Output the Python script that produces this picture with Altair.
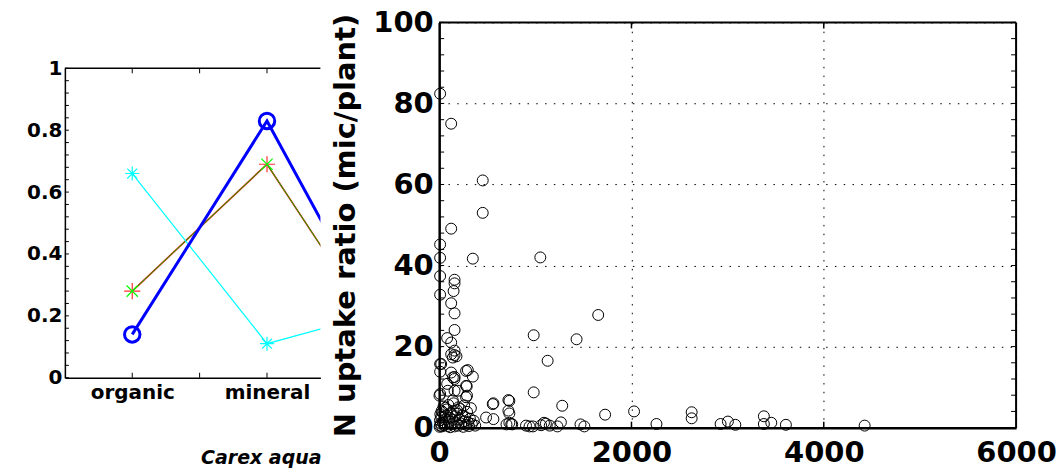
import altair as alt
import pandas as pd

# ---------------- Left panel data ----------------
categories = ["organic", "mineral", "other"]
cat_pos = [1, 2, 3]
blue_vals = [0.14, 0.83, 0.03]
cyan_vals = [0.66, 0.11, 0.23]
red_vals = [0.28, 0.69, 0.03]
green_vals = [0.28, 0.69, 0.03]
left_yticks_major = [0, 0.2, 0.4, 0.6, 0.8, 1.0]
left_yticks_minor = [round(i * 0.04, 2) for i in range(26)]
left_xticks = [1, 1.5, 2]

# ---------------- Right panel data ----------------
x_vals = [10, 125, 453, 453, 125, 10, 10, 350, 1052, 10, 160, 160, 150, 10, 125, 160, 1654, 160,
          83, 983, 1429, 125, 160, 160, 180, 1128, 10, 10, 298, 350, 160, 83, 287, 10, 160, 290,
          983, 564, 730, 730, 1280, 1726, 2027, 2260, 2626, 2626, 2927, 3003, 3080, 3377, 3377,
          3454, 3606, 4425, 488, 564, 700, 730, 760, 940, 975, 1060, 1090, 1110, 1150, 1230, 1266,
          1470, 1510,
          125, 142, 21, 125, 142, 159, 280, 280, 90, 194, 3, 142, 280, 557, 720, 720, 750, 903,
          5, 10, 15, 8, 20, 12, 25, 30, 40, 55, 60, 70, 80, 90, 100, 110, 120, 130, 140, 150, 160,
          170, 180, 190, 200, 210, 220, 230, 240, 250, 260, 270, 280, 290, 300, 310, 320, 340, 360,
          375, 45, 95, 150, 200, 260, 330, 35, 65, 185, 115]
y_vals = [82.4, 75.0, 61.0, 53.0, 49.1, 45.2, 41.9, 41.7, 42.0, 37.4, 36.5, 35.6, 33.7, 32.8, 30.7,
          28.2, 27.8, 24.1, 22.1, 22.8, 21.8, 21.0, 19.0, 17.9, 17.6, 16.5, 15.7, 13.8, 14.2, 12.6,
          12.5, 10.8, 10.2, 8.3, 9.1, 7.9, 8.7, 6.0, 6.6, 3.5, 5.4, 3.2, 4.0, 0.9, 3.8, 2.3, 0.9,
          1.5, 0.7, 2.8, 0.9, 1.2, 0.7, 0.5, 2.5, 2.1, 0.8, 1.2, 0.8, 0.3, 0.3, 0.6, 1.2, 1.0, 0.5,
          0.3, 1.3, 0.8, 0.3,
          18.1, 17.3, 15.7, 13.6, 12.4, 12.0, 14.0, 10.3, 9.1, 9.1, 7.9, 6.7, 7.5, 5.8, 6.8, 4.2,
          0.9, 0.5,
          0.2, 0.5, 1.0, 1.8, 2.6, 3.3, 4.1, 0.3, 1.2, 0.6, 2.0, 3.0, 4.5, 0.4, 1.5, 2.4, 3.6, 0.8,
          1.9, 4.0, 0.3, 2.8, 1.2, 3.4, 0.5, 2.0, 4.6, 1.0, 3.0, 0.2, 1.6, 2.6, 0.7, 3.9, 1.3, 0.4,
          2.2, 0.9, 1.7, 0.5, 5.2, 5.6, 6.0, 5.0, 5.5, 4.8, 3.8, 4.9, 4.3, 0.1]
right_yticks_major = [0, 20, 40, 60, 80, 100]
right_yticks_minor = list(range(0, 101, 4))
right_xticks_major = [0, 2000, 4000, 6000]
right_xticks_inner = [2000, 4000]

FONT = "DejaVu Sans"

# ---------------- Left chart ----------------
LW, LH = 256, 310
rows = []
for name, vals in [("blue", blue_vals), ("cyan", cyan_vals), ("red", red_vals), ("green", green_vals)]:
    for p, c, v in zip(cat_pos, categories, vals):
        rows.append({"series": name, "pos": p, "cat": c, "val": v})
dl = pd.DataFrame(rows)

label_expr = " : ".join(
    [f"datum.value == {p} ? '{c}'" for p, c in zip(cat_pos[:2], categories[:2])]) + " : ''"

lx_scale = alt.Scale(domain=[0.5, 0.5 + LW / 135.0], nice=False, zero=False)
ly_scale = alt.Scale(domain=[0, 1], nice=False)

lx_axis = alt.Axis(values=cat_pos[:2], labelExpr=label_expr, tickSize=0, grid=False,
                   domainColor="black", domainWidth=1.5, labelFont=FONT, labelFontSize=20,
                   labelFontWeight="bold", labelColor="black", labelPadding=5,
                   labelFlush=False, labelOverlap=False,
                   title="Carex aqua", titleFont=FONT, titleFontSize=19, titleFontWeight="bold",
                   titleFontStyle="italic", titleColor="black", titleAlign="left",
                   titleAnchor="start", titleX=136, titleY=80, titleBaseline="middle")
ly_axis = alt.Axis(values=left_yticks_major, format="~g", tickSize=0, grid=False,
                   domainColor="black", domainWidth=1.5, labelFont=FONT, labelFontSize=20,
                   labelFontWeight="bold", labelColor="black", labelPadding=3,
                   labelFlush=False, labelOverlap=False, title=None)


def LX(f):
    return alt.X(f, type="quantitative", scale=lx_scale, axis=lx_axis)


def LY(f):
    return alt.Y(f, type="quantitative", scale=ly_scale, axis=ly_axis)


lbase = alt.Chart(dl)
line_blue = lbase.transform_filter("datum.series == 'blue'").mark_line(
    color="#0000ff", strokeWidth=3, clip=True).encode(x=LX("pos"), y=LY("val"))
pt_blue = lbase.transform_filter("datum.series == 'blue'").mark_point(
    shape="circle", filled=False, color="#0000ff", strokeWidth=3, size=240, opacity=1,
    clip=True).encode(x=LX("pos"), y=LY("val"))
line_cyan = lbase.transform_filter("datum.series == 'cyan'").mark_line(
    color="#00ffff", strokeWidth=1.2, clip=True).encode(x=LX("pos"), y=LY("val"))
pt_cyan = lbase.transform_filter("datum.series == 'cyan'").mark_point(
    shape="M0,-1L0,1M-1,0L1,0M-0.7,-0.7L0.7,0.7M-0.7,0.7L0.7,-0.7", filled=False,
    color="#00ffff", strokeWidth=1.2, size=200, opacity=1, clip=True).encode(x=LX("pos"), y=LY("val"))
line_red = lbase.transform_filter("datum.series == 'red'").mark_line(
    color="#ff0000", strokeWidth=1.6, clip=True).encode(x=LX("pos"), y=LY("val"))
pt_red = lbase.transform_filter("datum.series == 'red'").mark_point(
    shape="M0,-1L0,1M-1,0L1,0", filled=False, color="#ff3030", strokeWidth=1.2, size=260,
    opacity=1, clip=True).encode(x=LX("pos"), y=LY("val"))
line_green = lbase.transform_filter("datum.series == 'green'").mark_line(
    color="#00c000", strokeWidth=1, clip=True).encode(x=LX("pos"), y=LY("val"))
pt_green = lbase.transform_filter("datum.series == 'green'").mark_point(
    shape="M-0.7,-0.7L0.7,0.7M-0.7,0.7L0.7,-0.7", filled=False, color="#00ff00",
    strokeWidth=1.2, size=260, opacity=1, clip=True).encode(x=LX("pos"), y=LY("val"))

l_ytick_df = pd.DataFrame({"t": left_yticks_minor})
l_yticks = alt.Chart(l_ytick_df).mark_rule(color="black", strokeWidth=1).encode(
    y=LY("t"), x=alt.value(0), x2=alt.value(4))
l_xtick_df = pd.DataFrame({"t": left_xticks})
l_xticks_b = alt.Chart(l_xtick_df).mark_rule(color="black", strokeWidth=1).encode(
    x=LX("t"), y=alt.value(LH), y2=alt.value(LH - 5))
l_xticks_t = alt.Chart(l_xtick_df).mark_rule(color="black", strokeWidth=1).encode(
    x=LX("t"), y=alt.value(0), y2=alt.value(5))
l_top = alt.Chart(pd.DataFrame({"v": [1.0]})).mark_rule(color="black", strokeWidth=1.5).encode(
    y=LY("v"))

left = alt.layer(l_yticks, l_xticks_b, l_xticks_t, l_top,
                 line_red, line_green, line_cyan, line_blue,
                 pt_cyan, pt_red, pt_green, pt_blue).properties(width=LW, height=LH)

# invisible spacer that pushes the left panel down
spacer = alt.Chart(pd.DataFrame({"s": [0]})).mark_rule(opacity=0).encode(
    x=alt.value(0), y=alt.value(0), y2=alt.value(1)).properties(width=LW, height=36)

left_col = alt.vconcat(spacer, left, spacing=0)

# ---------------- Right chart ----------------
RW, RH = 578, 406
dr = pd.DataFrame({"x": x_vals, "y": y_vals})
rx_scale = alt.Scale(domain=[0, 6000], nice=False)
ry_scale = alt.Scale(domain=[0, 100], nice=False)
rx_axis = alt.Axis(values=right_xticks_major, format="d", tickSize=0, grid=True,
                   gridDash=[1.5, 7.3], gridColor="black", gridWidth=1, gridOpacity=1,
                   domainColor="black", domainWidth=2.5, labelFont=FONT, labelFontSize=29,
                   labelFontWeight="bold", labelColor="black", labelPadding=11,
                   labelFlush=False, labelOverlap=False, title=None)
ry_axis = alt.Axis(values=right_yticks_major, format="d", tickSize=0, grid=True,
                   gridDash=[1.5, 7.3], gridColor="black", gridWidth=1, gridOpacity=1,
                   domainColor="black", domainWidth=2.5, labelFont=FONT, labelFontSize=29,
                   labelFontWeight="bold", labelColor="black", labelPadding=6,
                   labelFlush=False, labelOverlap=False,
                   title="N uptake ratio (mic/plant)", titleFont=FONT, titleFontSize=29,
                   titleFontWeight="bold", titleColor="black", titlePadding=12)


def RX(f):
    return alt.X(f, type="quantitative", scale=rx_scale, axis=rx_axis)


def RY(f):
    return alt.Y(f, type="quantitative", scale=ry_scale, axis=ry_axis)


scatter = alt.Chart(dr).mark_point(shape="circle", filled=False, color="black",
                                   strokeWidth=1, size=120, opacity=1).encode(
    x=RX("x"), y=RY("y"))

r_ytick_df = pd.DataFrame({"t": right_yticks_minor})
r_yticks_l = alt.Chart(r_ytick_df).mark_rule(color="black", strokeWidth=1).encode(
    y=RY("t"), x=alt.value(0), x2=alt.value(5))
r_yticks_r = alt.Chart(r_ytick_df).mark_rule(color="black", strokeWidth=1).encode(
    y=RY("t"), x=alt.value(RW), x2=alt.value(RW - 5))
r_xtick_df = pd.DataFrame({"t": right_xticks_inner})
r_xticks_b = alt.Chart(r_xtick_df).mark_rule(color="black", strokeWidth=1.5).encode(
    x=RX("t"), y=alt.value(RH), y2=alt.value(RH - 6))
r_xticks_t = alt.Chart(r_xtick_df).mark_rule(color="black", strokeWidth=1.5).encode(
    x=RX("t"), y=alt.value(0), y2=alt.value(6))
r_top = alt.Chart(pd.DataFrame({"v": [100]})).mark_rule(color="black", strokeWidth=2).encode(
    y=RY("v"))
r_right = alt.Chart(pd.DataFrame({"v": [6000]})).mark_rule(color="black", strokeWidth=2).encode(
    x=RX("v"))

right = alt.layer(r_yticks_l, r_yticks_r, r_xticks_b, r_xticks_t, r_top, r_right,
                  scatter).properties(width=RW, height=RH)

chart = alt.hconcat(left_col, right, spacing=10).properties(
    padding={"left": 26, "top": 8, "right": 0, "bottom": 0},
    background="white").configure_view(stroke=None)

chart.save("out.html", embed_options={"renderer": "svg", "actions": False})
